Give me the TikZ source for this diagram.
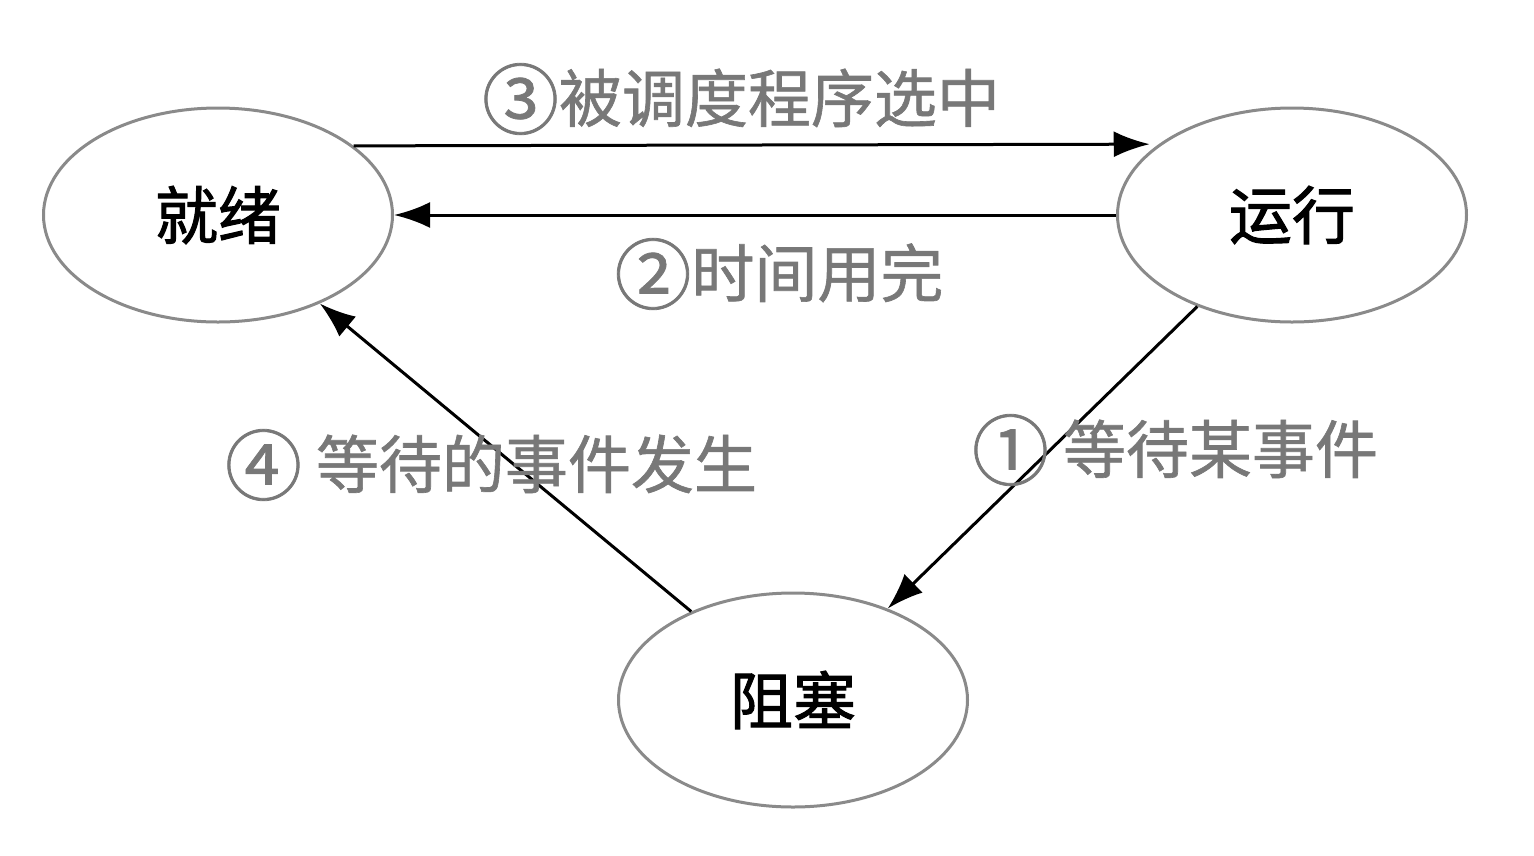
\documentclass[tikz,border=0pt]{standalone}
\usepackage{fontspec}
\setmainfont{Noto Sans CJK SC}
\newfontfamily\nodefont[FakeBold=1.6]{Noto Sans CJK SC}
\newfontfamily\lblfont[FakeBold=1.0]{Noto Sans CJK SC}
\usetikzlibrary{shapes.geometric,arrows.meta}
\definecolor{outline}{HTML}{8A8A8A}
\definecolor{labelgray}{HTML}{787878}
\newcommand{\circnum}[1]{\raisebox{-0.1em}{\scalebox{1.22}{#1}}}
\tikzset{
  state/.style={ellipse,draw=outline,line width=3pt,minimum width=349pt,minimum height=214pt,inner sep=0pt,font=\nodefont\fontsize{63pt}{70pt}\selectfont,text=black},
  trans/.style={line width=3pt,-{Latex[length=36pt,width=26pt]}},
  lbl/.style={inner sep=0pt,font=\lblfont\fontsize{63pt}{70pt}\selectfont,text=labelgray}
}
\begin{document}
\begin{tikzpicture}[x=1pt,y=-1pt]
\useasboundingbox (0,0) rectangle (1534,855);
\node[state] (ready) at (218,215) {就绪};
\node[state] (run) at (1292,215) {运行};
\node[state] (block) at (793,700) {阻塞};
\draw[trans,shorten >=9pt] (ready.27.8) -- (run.152.2);
\draw[trans] (run.west) -- (ready.east);
\draw[trans] (run.224.4) -- (block.44.4);
\draw[trans] (block.139.5) -- (ready.319.8);
\node[lbl] (l3) at (741,99) {\circnum{③}被调度程序选中};
\node[lbl] (l2) at (779,274) {\circnum{②}时间用完};
\node[lbl] (l1) at (1175,450) {\circnum{①} 等待某事件};
\node[lbl] (l4) at (491,465) {\circnum{④} 等待的事件发生};
\end{tikzpicture}
\end{document}
